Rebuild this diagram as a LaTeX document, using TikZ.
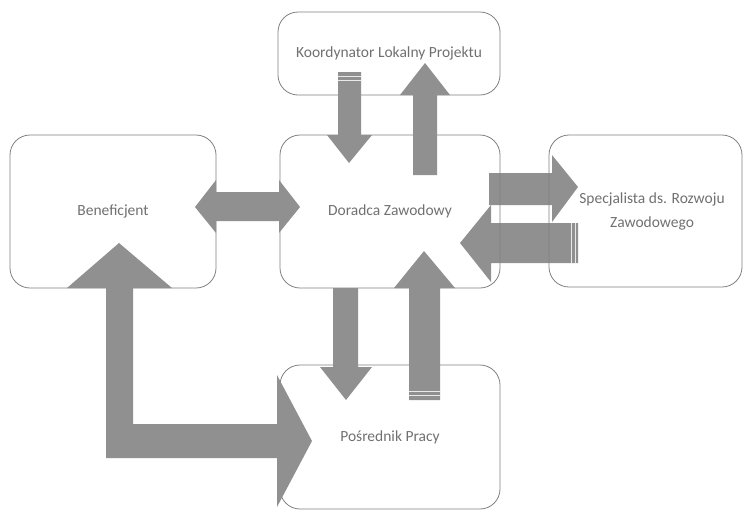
\documentclass[tikz,border=0pt]{standalone}
\usepackage{fontspec}
\setmainfont{Carlito}
\definecolor{arrowgray}{RGB}{144,144,144}
\definecolor{linegray}{RGB}{128,128,128}
\definecolor{textgray}{RGB}{112,112,112}
\tikzset{
  box/.style={draw=linegray, line width=0.8pt, rounded corners=20pt, inner sep=0pt,
    text=textgray, font=\fontsize{15.5}{24}\selectfont, align=center},
  blockarrow/.style={fill=arrowgray, draw=none},
  stripe/.style={draw=white!80!arrowgray, line width=0.7pt}
}
\begin{document}
\begin{tikzpicture}[x=1pt,y=-1pt]
\useasboundingbox (0,0) rectangle (743,512);
% horizontal arrows (under the boxes' outlines)
\fill[blockarrow] (489,173) -- (552,173) -- (552,155) -- (578,187) -- (552,222) -- (552,205) -- (489,205) -- cycle;
\fill[blockarrow] (578,223) -- (491,223) -- (491,205) -- (460,243) -- (491,282) -- (491,263) -- (578,263) -- cycle;
\draw[stripe] (571,223) -- (571,263);
\draw[stripe] (575,223) -- (575,263);
% boxes
\node[box, minimum width=222pt, minimum height=83pt] (koo) at (389,53.5) {Koordynator Lokalny Projektu};
\node[box, minimum width=220pt, minimum height=153pt] (dor) at (390,211.5) {Doradca Zawodowy};
\node[box, minimum width=206pt, minimum height=153pt] (ben) at (113,211.5) {Beneficjent};
\node[box, minimum width=193pt, minimum height=152pt] (spe) at (645.5,211) {\hspace*{13pt}Specjalista ds. Rozwoju\\\hspace*{13pt}Zawodowego};
\node[box, minimum width=220pt, minimum height=144pt] (pos) at (390,437) {Pośrednik Pracy};
% Koordynator -> Doradca
\fill[blockarrow] (338,72) -- (361,72) -- (361,135) -- (372,135) -- (349,163) -- (327,135) -- (338,135) -- cycle;
\draw[stripe] (338,76) -- (361,76);
\draw[stripe] (338,80) -- (361,80);
% Doradca -> Koordynator
\fill[blockarrow] (413,175) -- (413,95) -- (400,95) -- (425,63) -- (450,95) -- (437,95) -- (437,175) -- cycle;
% Beneficjent <-> Doradca
\fill[blockarrow] (195,207) -- (216,180) -- (216,192) -- (279,192) -- (279,180) -- (300,207) -- (279,233) -- (279,221) -- (216,221) -- (216,233) -- cycle;
% Doradca -> Posrednik
\fill[blockarrow] (333,288) -- (358,288) -- (358,367) -- (372,367) -- (346,400) -- (320,367) -- (333,367) -- cycle;
% Posrednik -> Doradca
\fill[blockarrow] (409,400) -- (409,288) -- (394,288) -- (424,251) -- (455,288) -- (440,288) -- (440,400) -- cycle;
\draw[stripe] (409,391) -- (440,391);
\draw[stripe] (409,395) -- (440,395);
% Posrednik <-> Beneficjent (bent)
\fill[blockarrow] (119,243) -- (172,288) -- (133,288) -- (133,424) -- (277,424) -- (277,375) -- (312,441) -- (277,507) -- (277,458) -- (106,458) -- (106,288) -- (67,288) -- cycle;
\end{tikzpicture}
\end{document}
